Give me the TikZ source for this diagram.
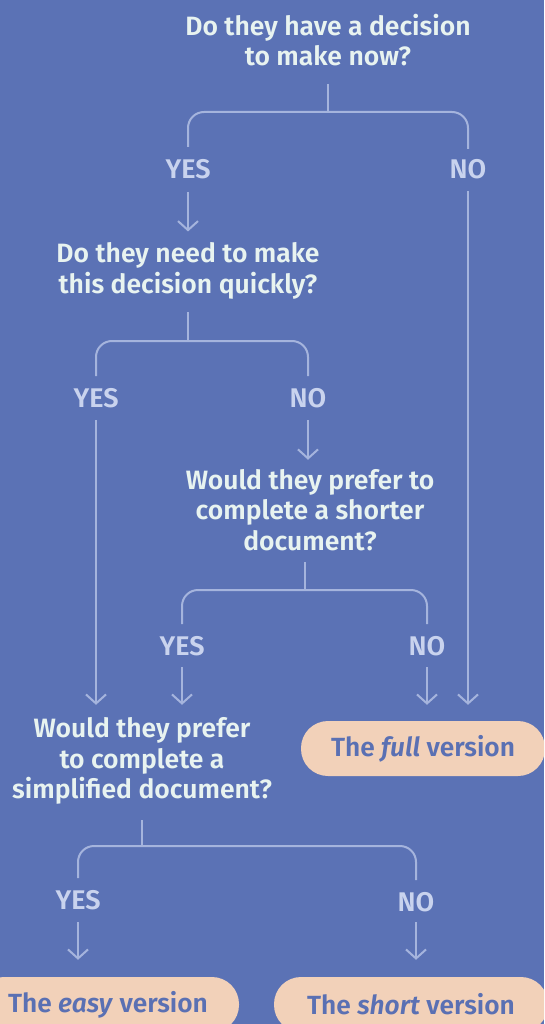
\documentclass[tikz,border=0pt]{standalone}
\usepackage{fontspec}
\setmainfont{Fira Sans}[BoldFont={* SemiBold},BoldItalicFont={* SemiBold Italic}]
\usetikzlibrary{arrows.meta,calc}
\definecolor{bg}{HTML}{5B72B5}
\definecolor{qtext}{HTML}{E8F3F0}
\definecolor{labtext}{HTML}{C9D3EE}
\definecolor{linec}{HTML}{A5B4DD}
\definecolor{boxfill}{HTML}{F2D1B9}
\definecolor{boxtext}{HTML}{5A70B3}
\tikzset{
  q/.style={text=qtext,align=center,inner sep=0pt,font=\fontsize{26.5}{30.8}\selectfont\bfseries},
  lab/.style={text=labtext,inner sep=0pt,font=\fontsize{27}{30}\selectfont\bfseries},
  br/.style={draw=linec,line width=2pt,rounded corners=16pt},
  arr/.style={draw=linec,line width=2pt,-{Straight Barb[length=9pt,width=20pt,line width=2pt]}},
  endbox/.style={fill=boxfill,text=boxtext,rounded corners=27pt,minimum height=55pt,inner sep=0pt,font=\fontsize{26.3}{30}\selectfont\bfseries},
}
\begin{document}
\begin{tikzpicture}[x=1pt,y=-1pt]
\fill[bg] (0,0) rectangle (544,1024);
\useasboundingbox (0,0) rectangle (544,1024);
\clip (0,0) rectangle (544,1024);
% questions
\node[q] (q1) at (328,40) {Do they have a decision\\to make now?};
\node[q] (q2) at (188,271) {Do they need to make\\this decision quickly?};
\node[q] (q3) at (310,510) {Would they prefer to\\complete a shorter\\document?};
\node[q] (q4) at (142,761) {Would they prefer\\to complete a\\simplified document?};
% labels
\node[lab] (y1) at (188,169) {YES};
\node[lab] (n1) at (468,169) {NO};
\node[lab] (y2) at (96,398) {YES};
\node[lab] (n2) at (308,398) {NO};
\node[lab] (y3) at (182,646) {YES};
\node[lab] (n3) at (427,646) {NO};
\node[lab] (y4) at (78,900) {YES};
\node[lab] (n4) at (416,902) {NO};
% end boxes
\node[endbox,minimum width=244pt] (full) at (423,748.5) {The \textit{full} version};
\node[endbox,minimum width=262pt] (easy) at (108,1004.5) {The \textit{easy} version};
\node[endbox,minimum width=274pt] (short) at (411,1004.5) {The \textit{short} version};
% brackets
\coordinate (s1) at (328,84);
\coordinate (j1) at (328,112);
\draw[br,rounded corners=0pt] (s1) -- (j1);
\draw[br] ($(y1)+(0,-22)$) -- (y1 |- j1) -- (n1 |- j1) -- ($(n1)+(0,-20)$);
\coordinate (s2) at (188,312);
\coordinate (j2) at (188,341);
\draw[br,rounded corners=0pt] (s2) -- (j2);
\draw[br] ($(y2)+(0,-22)$) -- (y2 |- j2) -- (n2 |- j2) -- ($(n2)+(0,-22)$);
\coordinate (s3) at (305,562);
\coordinate (j3) at (305,590);
\draw[br,rounded corners=0pt] (s3) -- (j3);
\draw[br] ($(y3)+(0,-22)$) -- (y3 |- j3) -- (n3 |- j3) -- ($(n3)+(0,-22)$);
\coordinate (s4) at (142,820);
\coordinate (j4) at (142,846);
\draw[br,rounded corners=0pt] (s4) -- (j4);
\draw[br] ($(y4)+(0,-22)$) -- (y4 |- j4) -- (n4 |- j4) -- ($(n4)+(0,-22)$);
% arrows
\draw[arr] ($(y1)+(0,23)$) -- ($(y1 |- q2.north)+(0,-11)$);
\draw[arr] ($(n1)+(0,22)$) -- ($(n1 |- full.north)+(0,-16)$);
\draw[arr] ($(y2)+(0,22)$) -- ($(y2 |- full.north)+(0,-16)$);
\draw[arr] ($(n2)+(0,22)$) -- ($(n2 |- q3.north)+(0,-9)$);
\draw[arr] ($(y3)+(0,21)$) -- ($(y3 |- full.north)+(0,-16)$);
\draw[arr] ($(n3)+(0,21)$) -- ($(n3 |- full.north)+(0,-16)$);
\draw[arr] ($(y4)+(0,22)$) -- ($(y4 |- easy.north)+(0,-17)$);
\draw[arr] ($(n4)+(0,20)$) -- ($(n4 |- short.north)+(0,-17)$);
\end{tikzpicture}
\end{document}
